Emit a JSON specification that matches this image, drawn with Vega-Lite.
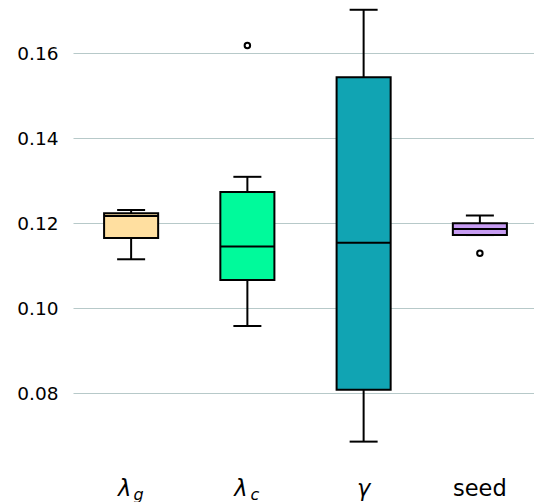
{
  "$schema": "https://vega.github.io/schema/vega-lite/v6.json",
  "width": 465,
  "height": 465,
  "autosize": {"type": "none"},
  "padding": {"left": 73, "top": 0, "right": 0, "bottom": 37},
  "config": {"view": {"stroke": null}, "font": "DejaVu Sans"},
  "datasets": {
    "stats": [
      {"param": "lg", "lower": 0.1115, "q1": 0.1165, "median": 0.1217, "q3": 0.1223, "upper": 0.1231},
      {"param": "lc", "lower": 0.0958, "q1": 0.1066, "median": 0.1145, "q3": 0.1273, "upper": 0.1309},
      {"param": "gamma", "lower": 0.0686, "q1": 0.0808, "median": 0.1154, "q3": 0.1543, "upper": 0.1702},
      {"param": "seed", "lower": 0.1172, "q1": 0.1172, "median": 0.1186, "q3": 0.12, "upper": 0.1218}
    ],
    "outliers": [
      {"param": "lc", "value": 0.1618},
      {"param": "seed", "value": 0.1129}
    ]
  },
  "data": {"name": "stats"},
  "encoding": {
    "x": {"field": "param", "type": "nominal", "sort": ["lg", "lc", "gamma", "seed"],
      "scale": {"domain": ["lg", "lc", "gamma", "seed"], "paddingInner": 0, "paddingOuter": 0}, "axis": null}
  },
  "layer": [
    {
      "mark": {"type": "rule", "stroke": "black", "strokeWidth": 2},
      "encoding": {
        "x": {"field": "param", "type": "nominal", "sort": ["lg", "lc", "gamma", "seed"],
          "scale": {"domain": ["lg", "lc", "gamma", "seed"], "paddingInner": 0, "paddingOuter": 0},
          "axis": {
            "orient": "bottom", "title": null, "domain": false, "ticks": false, "tickSize": 0, "grid": false,
            "labelFont": "DejaVu Sans", "labelFontSize": 22.5, "labelColor": "black", "labelAngle": 0,
            "labelBaseline": "alphabetic", "labelPadding": 30, "labelAlign": "center",
            "labelOverlap": false, "labelBound": false, "labelFlush": false,
            "labelExpr": "datum.value == 'seed' ? 'seed' : (datum.value == 'gamma' ? 'γ' : 'λ')",
            "labelFontStyle": {"condition": {"test": "datum.value == 'seed'", "value": "normal"}, "value": "italic"},
            "labelOffset": {"condition": {"test": "datum.value == 'lg' || datum.value == 'lc'", "value": -6.5}, "value": 0}
          }
        },
        "y": {"field": "lower", "type": "quantitative",
          "scale": {"domain": [0.0631, 0.1725], "nice": false, "zero": false},
          "axis": {"values": [0.08, 0.1, 0.12, 0.14, 0.16], "format": ".2f", "title": null,
            "domain": false, "ticks": false, "tickSize": 0, "labelFontSize": 18.5, "labelPadding": 15,
            "labelColor": "black", "labelFont": "DejaVu Sans", "gridColor": "#b7c9c9", "gridWidth": 1, "gridOpacity": 1}},
        "y2": {"field": "upper"}
      }
    },
    {
      "mark": {"type": "bar", "stroke": "black", "strokeWidth": 2, "width": {"band": 0.465}},
      "encoding": {
        "y": {"field": "q1", "type": "quantitative"},
        "y2": {"field": "q3"},
        "fill": {"field": "param", "type": "nominal",
          "scale": {"domain": ["lg", "lc", "gamma", "seed"], "range": ["#FFDFA0", "#00FA9B", "#11A4B3", "#C79CF2"]},
          "legend": null}
      }
    },
    {
      "mark": {"type": "tick", "color": "black", "size": 54, "thickness": 2, "opacity": 1},
      "encoding": {"y": {"field": "median", "type": "quantitative"}}
    },
    {
      "mark": {"type": "tick", "color": "black", "size": 28, "thickness": 2, "opacity": 1},
      "encoding": {
        "x": {"field": "param", "type": "nominal", "sort": ["lg", "lc", "gamma", "seed"],
          "scale": {"domain": ["lg", "lc", "gamma", "seed"], "paddingInner": 0, "paddingOuter": 0},
          "axis": {
            "orient": "bottom", "title": null, "domain": false, "ticks": false, "tickSize": 0, "grid": false,
            "labelFont": "DejaVu Sans", "labelFontSize": 16, "labelColor": "black", "labelAngle": 0,
            "labelBaseline": "alphabetic", "labelPadding": 34, "labelAlign": "center",
            "labelOverlap": false, "labelBound": false, "labelFlush": false, "labelFontStyle": "italic",
            "labelExpr": "datum.value == 'lg' ? 'g' : (datum.value == 'lc' ? 'c' : '')",
            "labelOffset": 7.5
          }
        },
        "y": {"field": "lower", "type": "quantitative"}
      }
    },
    {
      "mark": {"type": "tick", "color": "black", "size": 28, "thickness": 2, "opacity": 1},
      "encoding": {"y": {"field": "upper", "type": "quantitative"}}
    },
    {
      "data": {"name": "outliers"},
      "mark": {"type": "point", "shape": "circle", "filled": false, "stroke": "black", "strokeWidth": 2, "size": 30, "opacity": 1},
      "encoding": {"y": {"field": "value", "type": "quantitative"}}
    }
  ],
  "resolve": {"axis": {"x": "independent"}}
}
